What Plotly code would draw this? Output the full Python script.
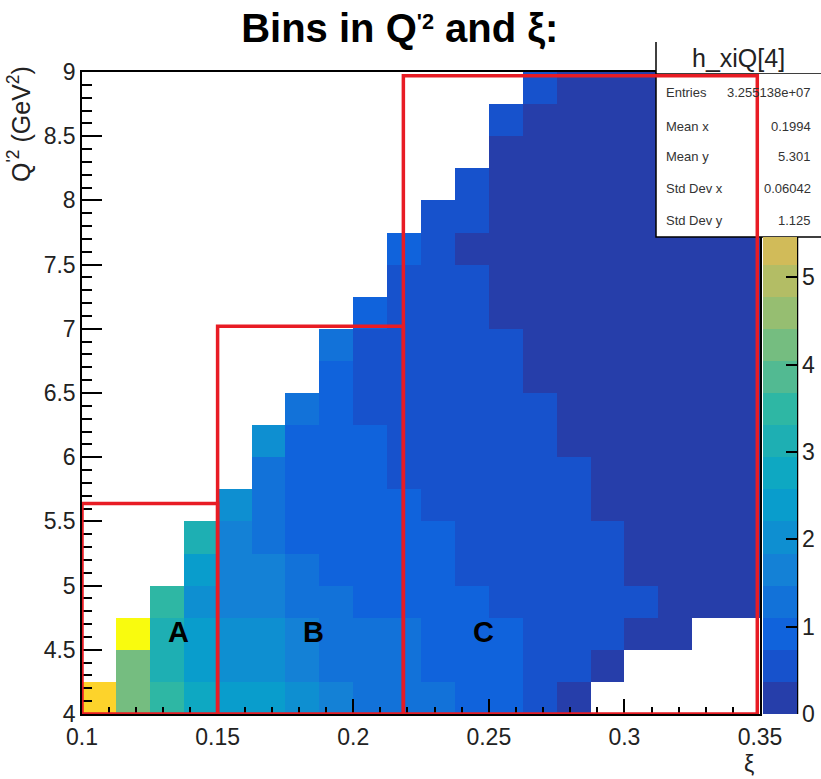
import plotly.graph_objects as go

# ---------------- data ----------------
xi_edges = [0.1, 0.1125, 0.125, 0.1375, 0.15, 0.1625, 0.175, 0.1875, 0.2, 0.2125, 0.225,
            0.2375, 0.25, 0.2625, 0.275, 0.2875, 0.3, 0.3125, 0.325, 0.3375, 0.35]
q2_edges = [4.0, 4.25, 4.5, 4.75, 5.0, 5.25, 5.5, 5.75, 6.0, 6.25, 6.5,
            6.75, 7.0, 7.25, 7.5, 7.75, 8.0, 8.25, 8.5, 8.75, 9.0]
N = None
# bin contents, rows from Q'2 = 4 (bottom) upward, columns from xi = 0.1 rightward
z_rows = [
    [6.4, 4.2, 3.5, 2.75, 2.4, 2.4, 2.0, 1.65, 1.3, 1.3, 1.3, 0.9, 0.9, 0.55, 0.2, N, N, N, N, N],
    [N, 4.2, 3.1, 2.4, 2.0, 2.0, 1.65, 1.3, 1.3, 1.3, 0.9, 0.9, 0.9, 0.55, 0.55, 0.2, N, N, N, N],
    [N, 7.2, 3.1, 2.4, 2.0, 2.0, 1.65, 1.3, 1.3, 1.3, 0.9, 0.9, 0.9, 0.55, 0.55, 0.55, 0.2, 0.2, N, N],
    [N, N, 3.5, 2.0, 1.65, 1.65, 1.3, 1.3, 0.9, 0.9, 0.9, 0.9, 0.55, 0.55, 0.55, 0.55, 0.55, 0.2, 0.2, 0.2],
    [N, N, N, 2.4, 1.65, 1.65, 1.3, 0.9, 0.9, 0.9, 0.9, 0.55, 0.55, 0.55, 0.55, 0.55, 0.2, 0.2, 0.2, 0.2],
    [N, N, N, 3.1, 1.65, 1.3, 0.9, 0.9, 0.9, 0.9, 0.9, 0.55, 0.55, 0.55, 0.55, 0.55, 0.2, 0.2, 0.2, 0.2],
    [N, N, N, N, 2.0, 1.3, 0.9, 0.9, 0.9, 0.9, 0.55, 0.55, 0.55, 0.55, 0.55, 0.2, 0.2, 0.2, 0.2, 0.2],
    [N, N, N, N, N, 1.3, 0.9, 0.9, 0.9, 0.55, 0.55, 0.55, 0.55, 0.55, 0.55, 0.2, 0.2, 0.2, 0.2, 0.2],
    [N, N, N, N, N, 2.0, 0.9, 0.9, 0.9, 0.55, 0.55, 0.55, 0.55, 0.55, 0.2, 0.2, 0.2, 0.2, 0.2, 0.2],
    [N, N, N, N, N, N, 1.3, 0.9, 0.55, 0.55, 0.55, 0.55, 0.55, 0.55, 0.2, 0.2, 0.2, 0.2, 0.2, 0.2],
    [N, N, N, N, N, N, N, 0.9, 0.55, 0.55, 0.55, 0.55, 0.55, 0.2, 0.2, 0.2, 0.2, 0.2, 0.2, 0.2],
    [N, N, N, N, N, N, N, 1.3, 0.55, 0.55, 0.55, 0.55, 0.55, 0.2, 0.2, 0.2, 0.2, 0.2, 0.2, 0.2],
    [N, N, N, N, N, N, N, N, 0.9, 0.55, 0.55, 0.55, 0.2, 0.2, 0.2, 0.2, 0.2, 0.2, 0.2, 0.2],
    [N, N, N, N, N, N, N, N, N, 0.55, 0.55, 0.55, 0.2, 0.2, 0.2, 0.2, 0.2, 0.2, 0.2, 0.2],
    [N, N, N, N, N, N, N, N, N, 0.9, 0.55, 0.2, 0.2, 0.2, 0.2, 0.2, 0.2, 0.2, 0.2, 0.2],
    [N, N, N, N, N, N, N, N, N, N, 0.55, 0.55, 0.2, 0.2, 0.2, 0.2, 0.2, 0.2, 0.2, 0.2],
    [N, N, N, N, N, N, N, N, N, N, N, 0.55, 0.2, 0.2, 0.2, 0.2, 0.2, 0.2, 0.2, 0.2],
    [N, N, N, N, N, N, N, N, N, N, N, N, 0.2, 0.2, 0.2, 0.2, 0.2, 0.2, 0.2, 0.2],
    [N, N, N, N, N, N, N, N, N, N, N, N, 0.55, 0.2, 0.2, 0.2, 0.2, 0.2, 0.2, 0.2],
    [N, N, N, N, N, N, N, N, N, N, N, N, N, 0.55, 0.2, 0.2, 0.2, 0.2, 0.2, 0.2],
]
z_min, z_max = 0.0, 7.35
n_levels = 20

# bin regions (xi_lo, xi_hi, Q2_lo, Q2_hi)
region_names = ["A", "B", "C"]
region_boxes = [(0.1, 0.15, 4.0, 5.64), (0.15, 0.2185, 4.0, 7.02), (0.2185, 0.349, 4.0, 8.97)]
region_label_pos = [(0.1355, 4.64), (0.1852, 4.64), (0.2479, 4.64)]

stat_labels = ["Entries", "Mean x", "Mean y", "Std Dev x", "Std Dev y"]
stat_values = ["3.255138e+07", "0.1994", "5.301", "0.06042", "1.125"]
hist_name = "h_xiQ[4]"
cbar_ticks = [0, 1, 2, 3, 4, 5]
x_ticks = [0.1, 0.15, 0.2, 0.25, 0.3, 0.35]
x_ticktext = ["0.1", "0.15", "0.2", "0.25", "0.3", "0.35"]

# ---------------- style ----------------
W, H = 821, 779
L, R, T, B = 82, 760, 72, 714          # plot frame in pixels
FONT = "Liberation Sans, Arial, sans-serif"
RED = "rgb(232,28,36)"

# ROOT kBird palette
stops = [0.0, 0.125, 0.25, 0.375, 0.5, 0.625, 0.75, 0.875, 1.0]
pr = [0.2082, 0.0592, 0.0780, 0.0232, 0.1802, 0.5301, 0.8186, 0.9956, 0.9764]
pg = [0.1664, 0.3599, 0.5041, 0.6419, 0.7178, 0.7492, 0.7328, 0.7862, 0.9832]
pb = [0.5293, 0.8684, 0.8385, 0.7914, 0.6425, 0.4662, 0.3499, 0.1968, 0.0539]


def bird(t):
    for k in range(len(stops) - 1):
        if t <= stops[k + 1]:
            f = (t - stops[k]) / (stops[k + 1] - stops[k])
            c = [a + f * (b - a) for a, b in ((pr[k], pr[k + 1]), (pg[k], pg[k + 1]), (pb[k], pb[k + 1]))]
            return "rgb(%d,%d,%d)" % tuple(round(255 * v) for v in c)
    return "rgb(249,251,14)"


band_colors = [bird((k + 1) / n_levels) for k in range(n_levels)]
cs_full = []
for k, c in enumerate(band_colors):
    cs_full += [[k / n_levels, c], [(k + 1) / n_levels, c]]

# visible part of the palette (upper part hidden under the stats box)
cbar_top_px = 237
cbar_vis_max = z_max * (B - cbar_top_px) / (B - T)
step = (z_max - z_min) / n_levels
cs_vis = []
for k, c in enumerate(band_colors):
    lo = k * step / cbar_vis_max
    if lo >= 1:
        break
    hi = min((k + 1) * step / cbar_vis_max, 1.0)
    cs_vis += [[lo, c], [hi, c]]


def px(xp):
    return (xp - L) / (R - L)


def py(yp):
    return (B - yp) / (B - T)


xc = [(a + b) / 2 for a, b in zip(xi_edges[:-1], xi_edges[1:])]
yc = [(a + b) / 2 for a, b in zip(q2_edges[:-1], q2_edges[1:])]

fig = go.Figure()
fig.add_trace(go.Heatmap(
    x=xc, y=yc, z=z_rows, zmin=z_min, zmax=z_max, colorscale=cs_full,
    showscale=False, hoverinfo="skip", zsmooth=False,
))
# palette axis
fig.add_trace(go.Scatter(
    x=[None], y=[None], mode="markers", hoverinfo="skip", showlegend=False,
    marker=dict(color=[0], cmin=0, cmax=cbar_vis_max, colorscale=cs_vis, showscale=True,
                colorbar=dict(
                    x=px(763), xanchor="left", xpad=0, thickness=34,
                    y=0, yanchor="bottom", ypad=0, lenmode="pixels", len=B - cbar_top_px,
                    outlinewidth=0, tickvals=cbar_ticks, ticks="inside", ticklen=11,
                    tickwidth=2, tickcolor="black",
                    tickfont=dict(family=FONT, size=23, color="#222"),
                )),
))

shapes = []
# stats box header + box
shapes.append(dict(type="rect", xref="paper", yref="paper", x0=px(656), x1=px(830),
                   y0=py(237), y1=py(73), fillcolor="white", line=dict(color="black", width=1.5),
                   layer="above"))
shapes.append(dict(type="rect", xref="paper", yref="paper", x0=px(656), x1=px(830),
                   y0=py(73), y1=py(42), fillcolor="white", line=dict(color="white", width=0),
                   layer="above"))
shapes.append(dict(type="line", xref="paper", yref="paper", x0=px(656), x1=px(656),
                   y0=py(73), y1=py(42), line=dict(color="black", width=1.5), layer="above"))
# palette axis line
shapes.append(dict(type="line", xref="paper", yref="paper", x0=px(797.5), x1=px(797.5),
                   y0=py(B), y1=py(cbar_top_px), line=dict(color="black", width=1.5), layer="above"))
# region boxes
for (x0, x1, y0, y1) in region_boxes:
    shapes.append(dict(type="rect", xref="x", yref="y", x0=x0, x1=x1, y0=y0, y1=y1,
                       line=dict(color=RED, width=3.5), fillcolor="rgba(0,0,0,0)", layer="above"))

ann = []
for name, (ax, ay) in zip(region_names, region_label_pos):
    ann.append(dict(x=ax, y=ay, xref="x", yref="y", text="<b>%s</b>" % name, showarrow=False,
                    font=dict(family=FONT, size=29, color="black")))
stat_y = [93, 126, 157, 189, 221]
for lab, val, yy in zip(stat_labels, stat_values, stat_y):
    ann.append(dict(x=px(664), y=py(yy), xref="paper", yref="paper", text=lab, showarrow=False,
                    xanchor="left", yanchor="middle", font=dict(family=FONT, size=13, color="#333")))
    ann.append(dict(x=px(813), y=py(yy), xref="paper", yref="paper", text=val, showarrow=False,
                    xanchor="right", yanchor="middle", font=dict(family=FONT, size=13, color="#333")))
ann.append(dict(x=px(738), y=py(58), xref="paper", yref="paper", text=hist_name, showarrow=False,
                xanchor="center", yanchor="middle", font=dict(family=FONT, size=25, color="#222")))
# axis titles
ann.append(dict(x=px(756), y=py(764), xref="paper", yref="paper", text="ξ", showarrow=False,
                xanchor="right", yanchor="middle", font=dict(family=FONT, size=23, color="#222")))
ann.append(dict(x=px(19), y=py(64), xref="paper", yref="paper",
                text="Q<sup>'2</sup> (GeV<sup>2</sup>)", textangle=-90, showarrow=False,
                xanchor="center", yanchor="top", font=dict(family=FONT, size=25, color="#222")))

fig.update_layout(
    width=W, height=H, margin=dict(l=L, r=W - R, t=T, b=H - B, autoexpand=False),
    paper_bgcolor="white", plot_bgcolor="white", showlegend=False,
    title=dict(text="<b>Bins in Q<span style='font-size:31px'><sup>'2</sup></span> and ξ:</b>",
               x=0.487, xanchor="center",
               y=1 - 28 / H, yanchor="middle", yref="container",
               font=dict(family=FONT, size=40, color="black")),
    shapes=shapes, annotations=ann,
    xaxis=dict(range=[xi_edges[0], xi_edges[-1]], tickvals=x_ticks, ticktext=x_ticktext,
               ticks="inside", ticklen=15, tickwidth=1.5, tickcolor="black",
               minor=dict(dtick=0.01, tick0=0.1, ticks="inside", ticklen=7, tickwidth=1.5, tickcolor="black"),
               showline=True, linecolor="black", linewidth=1.5, mirror=True,
               showgrid=False, zeroline=False, layer="above traces", ticklabelstandoff=2,
               tickfont=dict(family=FONT, size=23, color="#222")),
    yaxis=dict(range=[q2_edges[0], q2_edges[-1]], dtick=0.5, tick0=4,
               ticks="inside", ticklen=20, tickwidth=1.5, tickcolor="black",
               minor=dict(dtick=0.1, tick0=4, ticks="inside", ticklen=10, tickwidth=1.5, tickcolor="black"),
               showline=True, linecolor="black", linewidth=1.5, mirror=True,
               showgrid=False, zeroline=False, layer="above traces",
               tickfont=dict(family=FONT, size=23, color="#222")),
)
fig.write_html("out.html")
